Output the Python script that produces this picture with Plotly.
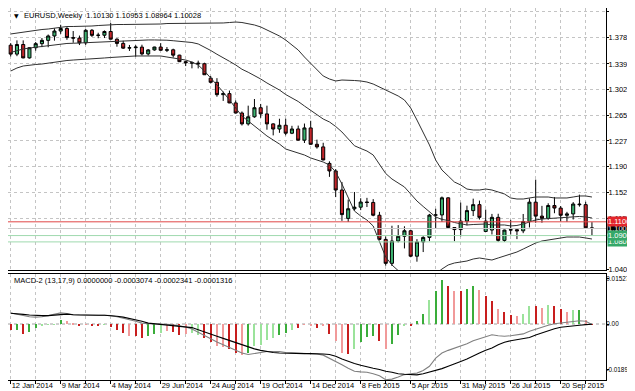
import plotly.graph_objects as go
import pandas as pd

# ---------------- data ----------------
dates = pd.date_range("2014-01-12", periods=94, freq="7D")

open_ = [1.3670, 1.3540, 1.3680, 1.3485, 1.3633, 1.3692, 1.3740, 1.3804, 1.3876, 1.3913,
         1.3780, 1.3773, 1.3704, 1.3887, 1.3813, 1.3815, 1.3869, 1.3757, 1.3696, 1.3627,
         1.3634, 1.3642, 1.3543, 1.3601, 1.3643, 1.3596, 1.3603, 1.3525, 1.3430, 1.3415,
         1.3410, 1.3400, 1.3190, 1.3130, 1.2950, 1.2965, 1.2830, 1.2683, 1.2525, 1.2628,
         1.2760, 1.2670, 1.2525, 1.2450, 1.2505, 1.2389, 1.2451, 1.2288, 1.2466, 1.2228,
         1.2190, 1.1950, 1.1840, 1.1563, 1.1150, 1.1290, 1.1313, 1.1388, 1.1382, 1.1196,
         1.0844, 1.0496, 1.0821, 1.0890, 1.0970, 1.0600, 1.0807, 1.0873, 1.1198, 1.1200,
         1.1449, 1.1016, 1.0987, 1.1110, 1.1263, 1.1350, 1.0960, 1.0980, 1.1165, 1.0830,
         1.0980, 1.0985, 1.0969, 1.1105, 1.1386, 1.1183, 1.1150, 1.1337, 1.1300, 1.1195,
         1.1215, 1.1359, 1.1350, 1.10130]
high = [1.3700, 1.3740, 1.3740, 1.3640, 1.3716, 1.3774, 1.3825, 1.3915, 1.3967, 1.3933,
        1.3876, 1.3810, 1.3905, 1.3905, 1.3851, 1.3885, 1.3993, 1.3771, 1.3734, 1.3673,
        1.3670, 1.3677, 1.3614, 1.3647, 1.3700, 1.3643, 1.3619, 1.3530, 1.3444, 1.3433,
        1.3445, 1.3415, 1.3222, 1.3190, 1.2994, 1.3010, 1.2865, 1.2706, 1.2790, 1.2887,
        1.2815, 1.2790, 1.2533, 1.2600, 1.2600, 1.2497, 1.2500, 1.2530, 1.2570, 1.2296,
        1.2250, 1.1980, 1.1868, 1.1680, 1.1424, 1.1534, 1.1443, 1.1449, 1.1430, 1.1245,
        1.0887, 1.1043, 1.1052, 1.1035, 1.0985, 1.0848, 1.0890, 1.1215, 1.1290, 1.1468,
        1.1456, 1.1018, 1.1380, 1.1335, 1.1437, 1.1409, 1.1278, 1.1215, 1.1217, 1.0986,
        1.1129, 1.1000, 1.1214, 1.1440, 1.1714, 1.1332, 1.1370, 1.1460, 1.1330, 1.1245,
        1.1387, 1.1495, 1.1392, 1.10953]
low = [1.3506, 1.3510, 1.3479, 1.3475, 1.3590, 1.3642, 1.3640, 1.3736, 1.3835, 1.3748,
       1.3705, 1.3672, 1.3674, 1.3790, 1.3771, 1.3774, 1.3757, 1.3648, 1.3615, 1.3586,
       1.3502, 1.3520, 1.3520, 1.3590, 1.3590, 1.3570, 1.3490, 1.3425, 1.3366, 1.3333,
       1.3332, 1.3240, 1.3113, 1.2920, 1.2859, 1.2826, 1.2675, 1.2501, 1.2500, 1.2614,
       1.2613, 1.2440, 1.2358, 1.2395, 1.2359, 1.2376, 1.2282, 1.2247, 1.2220, 1.2165,
       1.1995, 1.1754, 1.1460, 1.1114, 1.1098, 1.1262, 1.1270, 1.1315, 1.1181, 1.0839,
       1.0462, 1.0457, 1.0800, 1.0713, 1.0585, 1.0520, 1.0660, 1.0819, 1.1000, 1.1100,
       1.1063, 1.0819, 1.0888, 1.1049, 1.1184, 1.1133, 1.0955, 1.0916, 1.0808, 1.0807,
       1.0915, 1.0848, 1.0935, 1.1018, 1.1086, 1.1087, 1.1131, 1.1225, 1.1105, 1.1100,
       1.1134, 1.1321, 1.0999, 1.08964]
close = [1.3540, 1.3680, 1.3485, 1.3633, 1.3692, 1.3740, 1.3804, 1.3876, 1.3913, 1.3780,
         1.3773, 1.3704, 1.3887, 1.3813, 1.3815, 1.3869, 1.3757, 1.3696, 1.3627, 1.3634,
         1.3642, 1.3543, 1.3601, 1.3643, 1.3596, 1.3603, 1.3525, 1.3430, 1.3415, 1.3410,
         1.3400, 1.3240, 1.3130, 1.2950, 1.2965, 1.2830, 1.2683, 1.2525, 1.2628, 1.2760,
         1.2670, 1.2525, 1.2450, 1.2505, 1.2389, 1.2451, 1.2288, 1.2466, 1.2228, 1.2190,
         1.2000, 1.1840, 1.1563, 1.1205, 1.1290, 1.1313, 1.1388, 1.1382, 1.1196, 1.0844,
         1.0496, 1.0821, 1.0890, 1.0970, 1.0600, 1.0807, 1.0873, 1.1198, 1.1200, 1.1449,
         1.1016, 1.0987, 1.1110, 1.1263, 1.1350, 1.1165, 1.1110, 1.1165, 1.0830, 1.0980,
         1.0985, 1.0969, 1.1105, 1.1386, 1.1183, 1.1150, 1.1337, 1.1300, 1.1195, 1.1215,
         1.1359, 1.1350, 1.1013, 1.10028]

bb_upper = [1.3833, 1.3847, 1.3862, 1.3876, 1.3891, 1.3898, 1.3905, 1.3920, 1.3935, 1.3942,
            1.3942, 1.3942, 1.3949, 1.3949, 1.3956, 1.3964, 1.3964, 1.3971, 1.3971, 1.3971,
            1.3978, 1.3978, 1.3978, 1.3978, 1.3978, 1.3985, 1.3985, 1.3985, 1.3985, 1.3993,
            1.3993, 1.3993, 1.3993, 1.3985, 1.3993, 1.4000, 1.4007, 1.4000, 1.3985, 1.3964,
            1.3935, 1.3891, 1.3847, 1.3804, 1.3745, 1.3673, 1.3600, 1.3498, 1.3411, 1.3309,
            1.3222, 1.3178, 1.3149, 1.3163, 1.3163, 1.3156, 1.3149, 1.3134, 1.3105, 1.3062,
            1.3018, 1.2974, 1.2931, 1.2872, 1.2756, 1.2581, 1.2407, 1.2218, 1.1999, 1.1854,
            1.1767, 1.1679, 1.1636, 1.1577, 1.1563, 1.1563, 1.1577, 1.1563, 1.1534, 1.1505,
            1.1447, 1.1432, 1.1432, 1.1447, 1.1461, 1.1461, 1.1461, 1.1447, 1.1447, 1.1447,
            1.1461, 1.1476, 1.1476, 1.1461]
bb_middle = [1.3564, 1.3593, 1.3615, 1.3629, 1.3640, 1.3647, 1.3658, 1.3673, 1.3688, 1.3695,
             1.3698, 1.3702, 1.3709, 1.3713, 1.3720, 1.3724, 1.3728, 1.3735, 1.3735, 1.3738,
             1.3746, 1.3746, 1.3746, 1.3746, 1.3746, 1.3742, 1.3735, 1.3727, 1.3720, 1.3709,
             1.3688, 1.3644, 1.3593, 1.3538, 1.3491, 1.3436, 1.3382, 1.3320, 1.3276, 1.3229,
             1.3178, 1.3120, 1.3069, 1.3018, 1.2952, 1.2902, 1.2851, 1.2785, 1.2720, 1.2654,
             1.2596, 1.2553, 1.2487, 1.2407, 1.2305, 1.2207, 1.2167, 1.2130, 1.2072, 1.1934,
             1.1803, 1.1723, 1.1661, 1.1607, 1.1505, 1.1403, 1.1323, 1.1251, 1.1170, 1.1134,
             1.1120, 1.1090, 1.1076, 1.1054, 1.1061, 1.1069, 1.1068, 1.1054, 1.1054, 1.1054,
             1.1040, 1.1047, 1.1068, 1.1098, 1.1127, 1.1141, 1.1148, 1.1149, 1.1156, 1.1163,
             1.1170, 1.1178, 1.1171, 1.1156]
bb_lower = [1.3294, 1.3338, 1.3367, 1.3382, 1.3389, 1.3396, 1.3411, 1.3425, 1.3440, 1.3447,
            1.3454, 1.3462, 1.3469, 1.3476, 1.3484, 1.3484, 1.3491, 1.3498, 1.3498, 1.3505,
            1.3513, 1.3513, 1.3513, 1.3513, 1.3513, 1.3498, 1.3484, 1.3469, 1.3454, 1.3425,
            1.3382, 1.3294, 1.3193, 1.3091, 1.2989, 1.2872, 1.2756, 1.2640, 1.2567, 1.2494,
            1.2421, 1.2349, 1.2290, 1.2232, 1.2159, 1.2130, 1.2101, 1.2072, 1.2029, 1.1999,
            1.1970, 1.1927, 1.1825, 1.1650, 1.1447, 1.1257, 1.1185, 1.1126, 1.1039, 1.0806,
            1.0588, 1.0472, 1.0390, 1.0341, 1.0253, 1.0224, 1.0239, 1.0283, 1.0341, 1.0413,
            1.0472, 1.0501, 1.0515, 1.0530, 1.0559, 1.0574, 1.0559, 1.0544, 1.0574, 1.0603,
            1.0632, 1.0661, 1.0704, 1.0748, 1.0792, 1.0821, 1.0835, 1.0850, 1.0865, 1.0879,
            1.0879, 1.0879, 1.0865, 1.0850]

macd_hist = [-0.0021, -0.0019, -0.0032, -0.0028, -0.0013, -0.0008, -0.0003, -0.0002, 0.0012, 0.0009,
             0.0002, -0.0008, -0.0002, -0.0004, -0.0004, -0.0002, -0.0011, -0.0019, -0.0030, -0.0039,
             -0.0039, -0.0047, -0.0039, -0.0032, -0.0030, -0.0024, -0.0028, -0.0036, -0.0033, -0.0030,
             -0.0036, -0.0047, -0.0061, -0.0072, -0.0077, -0.0084, -0.0097, -0.0103, -0.0097, -0.0074,
             -0.0069, -0.0052, -0.0047, -0.0036, -0.0030, -0.0019, -0.0013, -0.0002, -0.0006, -0.0013,
             -0.0008, -0.0033, -0.0058, -0.0097, -0.0100, -0.0084, -0.0061, -0.0044, -0.0041, -0.0056,
             -0.0084, -0.0066, -0.0036, -0.0008, -0.0006, 0.0009, 0.0034, 0.0079, 0.0109, 0.0146,
             0.0126, 0.0109, 0.0109, 0.0117, 0.0126, 0.0115, 0.0093, 0.0076, 0.0050, 0.0039,
             0.0031, 0.0026, 0.0034, 0.0061, 0.0061, 0.0053, 0.0063, 0.0059, 0.0050, 0.0039,
             0.0046, 0.0046, 0.0014, -0.0001]
hist_state = ["r", "g", "r", "g", "g", "l", "l", "l", "g", "p",
              "p", "r", "p", "r", "r", "l", "r", "r", "r", "p",
              "r", "r", "g", "g", "l", "p", "r", "r", "p", "l",
              "l", "r", "r", "p", "p", "r", "r", "p", "g", "l",
              "l", "l", "l", "g", "g", "l", "r", "p", "p", "r",
              "p", "r", "p", "p", "r", "l", "g", "g", "g", "r",
              "p", "g", "g", "l", "r", "g", "g", "l", "g", "g",
              "r", "p", "r", "g", "g", "p", "r", "r", "p", "r",
              "r", "p", "l", "l", "r", "p", "l", "r", "r", "p",
              "l", "g", "p", "r"]
macd_main = [0.0037, 0.0032, 0.0028, 0.0024, 0.0023, 0.0024, 0.0028, 0.0032, 0.0037, 0.0035,
             0.0031, 0.0030, 0.0029, 0.0029, 0.0029, 0.0029, 0.0028, 0.0024, 0.0020, 0.0014,
             0.0009, 0.0003, 0.0001, 0.0001, 0.0000, -0.0001, -0.0003, -0.0006, -0.0010, -0.0017,
             -0.0028, -0.0039, -0.0050, -0.0060, -0.0069, -0.0079, -0.0088, -0.0097, -0.0102, -0.0099,
             -0.0096, -0.0092, -0.0092, -0.0092, -0.0095, -0.0096, -0.0097, -0.0097, -0.0098, -0.0100,
             -0.0104, -0.0114, -0.0125, -0.0136, -0.0148, -0.0158, -0.0160, -0.0161, -0.0166, -0.0173,
             -0.0186, -0.0184, -0.0177, -0.0169, -0.0166, -0.0164, -0.0155, -0.0141, -0.0114, -0.0097,
             -0.0088, -0.0081, -0.0075, -0.0066, -0.0056, -0.0050, -0.0043, -0.0036, -0.0039, -0.0041,
             -0.0039, -0.0037, -0.0033, -0.0024, -0.0017, -0.0010, -0.0004, 0.0001, 0.0003, 0.0006,
             0.0008, 0.0011, 0.0009, -0.0002]
macd_signal = [0.0036, 0.0035, 0.0032, 0.0030, 0.0028, 0.0028, 0.0028, 0.0030, 0.0033, 0.0033,
               0.0031, 0.0030, 0.0029, 0.0029, 0.0029, 0.0029, 0.0028, 0.0026, 0.0023, 0.0019,
               0.0014, 0.0009, 0.0003, 0.0001, -0.0002, -0.0003, -0.0004, -0.0006, -0.0008, -0.0012,
               -0.0019, -0.0027, -0.0035, -0.0041, -0.0048, -0.0055, -0.0061, -0.0068, -0.0077, -0.0083,
               -0.0088, -0.0092, -0.0095, -0.0097, -0.0098, -0.0099, -0.0099, -0.0099, -0.0099, -0.0099,
               -0.0100, -0.0102, -0.0108, -0.0117, -0.0125, -0.0132, -0.0138, -0.0144, -0.0148, -0.0152,
               -0.0158, -0.0161, -0.0166, -0.0168, -0.0169, -0.0170, -0.0166, -0.0161, -0.0156, -0.0149,
               -0.0141, -0.0132, -0.0125, -0.0117, -0.0106, -0.0097, -0.0088, -0.0080, -0.0069, -0.0061,
               -0.0056, -0.0052, -0.0050, -0.0045, -0.0037, -0.0030, -0.0021, -0.0016, -0.0011, -0.0008,
               -0.0006, -0.0004, -0.0002, -0.0001]

price_tick_vals = [1.4157, 1.3783, 1.3398, 1.3024, 1.2650, 1.2276, 1.1902, 1.1528, 1.1154, 1.0406]
price_tick_text = ["1.41570", "1.37830", "1.33980", "1.30240", "1.26500", "1.22760",
                   "1.19020", "1.15280", "1.11540", "1.04060"]
macd_tick_vals = [0.015272, 0.0, -0.01526]
macd_tick_text = ["0.015272", "0.00", "-0.018970"]
time_labels = ["12 Jan 2014", "9 Mar 2014", "4 May 2014", "29 Jun 2014", "24 Aug 2014",
               "19 Oct 2014", "14 Dec 2014", "8 Feb 2015", "5 Apr 2015", "31 May 2015",
               "26 Jul 2015", "20 Sep 2015"]

# horizontal levels: (value, label, line colour, label colour)
levels = [
    (1.10028, "1.10028", "#c8c8c8", "#000000"),
    (1.11000, "1.11000", "#e04646", "#e3262b"),
    (1.08078, "1.08078", "#9fd9ae", "#35a868"),
    (1.09000, "1.09000", "#9fd9ae", "#35a868"),
]

title_text = "EURUSD,Weekly  1.10130 1.10953 1.08964 1.10028"
macd_title = "MACD-2 (13,17,9) 0.0000000 -0.0003074 -0.0002341 -0.0001316"

# ---------------- styling ----------------
FONT = "Liberation Sans, Arial, sans-serif"
FS = 7.5
GRID = "#c4c4c4"
state_color = {"g": "#3aad3a", "l": "#9be39b", "r": "#c81e1e", "p": "#f19a9a"}
hist_colors = [state_color[s] for s in hist_state]

W, H = 635, 391
ML, MR, MT, MB = 0, 37, 0, 19
plot_w = W - ML - MR
plot_h = H - MT - MB
px_per_week = 6.25
first_px = 2.7
t0 = pd.Timestamp("2014-01-12")
x_start = t0 - pd.Timedelta(days=7 * first_px / px_per_week)
x_end = t0 + pd.Timedelta(days=7 * (plot_w - first_px) / px_per_week)

tick_dates = [t0 + pd.Timedelta(days=28 * k) for k in range(24)]
tick_text = []
for k in range(24):
    tick_text.append(time_labels[k // 2] if k % 2 == 0 else "")

main_dom = [(plot_h - 262) / plot_h, 1.0]
macd_dom = [0.0, (plot_h - 266) / plot_h]

fig = go.Figure()

fig.add_trace(go.Candlestick(
    x=dates, open=open_, high=high, low=low, close=close,
    increasing=dict(line=dict(color="#000000", width=1), fillcolor="#3cb371"),
    decreasing=dict(line=dict(color="#000000", width=1), fillcolor="#c4262b"),
    xaxis="x", yaxis="y", hoverinfo="skip", showlegend=False,
))
for band in (bb_upper, bb_middle, bb_lower):
    fig.add_trace(go.Scatter(x=dates, y=band, mode="lines",
                             line=dict(color="#303030", width=1),
                             xaxis="x", yaxis="y", hoverinfo="skip", showlegend=False))

fig.add_trace(go.Bar(x=dates, y=macd_hist, marker=dict(color=hist_colors, line=dict(width=0)),
                     width=1.4 * 86400000, xaxis="x2", yaxis="y2",
                     hoverinfo="skip", showlegend=False))
fig.add_trace(go.Scatter(x=dates, y=macd_main, mode="lines",
                         line=dict(color="#808080", width=1.1),
                         xaxis="x2", yaxis="y2", hoverinfo="skip", showlegend=False))
fig.add_trace(go.Scatter(x=dates, y=macd_signal, mode="lines",
                         line=dict(color="#000000", width=1.1),
                         xaxis="x2", yaxis="y2", hoverinfo="skip", showlegend=False))

shapes = []
for val, lab, lc, bc in levels:
    shapes.append(dict(type="line", xref="paper", x0=0, x1=1, yref="y", y0=val, y1=val,
                       line=dict(color=lc, width=1), layer="above"))
shapes.append(dict(type="line", xref="paper", x0=0, x1=1, yref="y2", y0=0, y1=0,
                   line=dict(color="#a0a0a0", width=1, dash="3px,3px"), layer="below"))

annotations = [
    dict(xref="paper", yref="paper", x=4 / plot_w, y=1 - 7.5 / plot_h, xanchor="left",
         yanchor="middle", showarrow=False, text="\u25bc",
         font=dict(family="DejaVu Sans", size=6, color="#000000")),
    dict(xref="paper", yref="paper", x=14 / plot_w, y=1 - 7.5 / plot_h, xanchor="left",
         yanchor="middle", showarrow=False, text=title_text,
         font=dict(family=FONT, size=FS, color="#000000")),
    dict(xref="paper", yref="paper", x=4 / plot_w, y=1 - 272 / plot_h, xanchor="left",
         yanchor="middle", showarrow=False, text=macd_title,
         font=dict(family=FONT, size=FS, color="#000000")),
]
for val, lab, lc, bc in levels:
    annotations.append(dict(xref="paper", yref="y", x=1, y=val, xanchor="left",
                            yanchor="middle", showarrow=False, text=lab, align="left",
                            width=35, height=9, bgcolor=bc, borderpad=0, xshift=1,
                            font=dict(family=FONT, size=FS, color="#ffffff")))

axis_common = dict(showline=True, linecolor="#000000", linewidth=1, mirror=True,
                   zeroline=False, fixedrange=True)

fig.update_layout(
    width=W, height=H,
    margin=dict(l=ML, r=MR, t=MT, b=MB, autoexpand=False),
    paper_bgcolor="#ffffff", plot_bgcolor="#ffffff",
    font=dict(family=FONT, size=FS, color="#000000"),
    showlegend=False, bargap=0,
    xaxis=dict(type="date", domain=[0, 1], anchor="y", range=[x_start, x_end],
               rangeslider=dict(visible=False), tickvals=tick_dates,
               ticktext=["" for _ in tick_dates], ticks="", showgrid=True,
               gridcolor=GRID, griddash="3px,3px", gridwidth=1, **axis_common),
    xaxis2=dict(type="date", domain=[0, 1], anchor="y2", range=[x_start, x_end],
                tickvals=tick_dates, ticktext=tick_text, ticks="outside", ticklen=3,
                tickcolor="#000000", ticklabelposition="outside right", tickangle=0,
                ticklabelstandoff=-2,
                tickfont=dict(family=FONT, size=FS, color="#000000"),
                showgrid=True, gridcolor=GRID, griddash="3px,3px", gridwidth=1,
                **axis_common),
    yaxis=dict(domain=main_dom, anchor="x", side="right", range=[1.0399, 1.4211],
               tickvals=price_tick_vals, ticktext=price_tick_text, ticks="outside",
               ticklen=2, tickcolor="#000000", ticklabelstandoff=-2,
               tickfont=dict(family=FONT, size=FS, color="#000000"),
               showgrid=True, gridcolor=GRID, griddash="3px,3px", gridwidth=1,
               **axis_common),
    yaxis2=dict(domain=macd_dom, anchor="x2", side="right", range=[-0.0187, 0.0167],
                tickvals=macd_tick_vals, ticktext=macd_tick_text, ticks="outside",
                ticklen=2, tickcolor="#000000", ticklabelstandoff=-4,
                tickfont=dict(family=FONT, size=6.4, color="#000000"),
                showgrid=False, **axis_common),
    shapes=shapes,
    annotations=annotations,
)

fig.write_html("out.html")
